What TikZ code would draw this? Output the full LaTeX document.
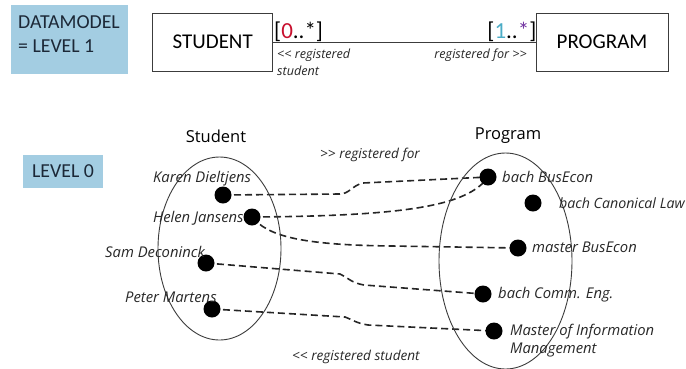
\documentclass[tikz,border=0pt]{standalone}
\usepackage{fontspec}
\setmainfont{Carlito}
\newfontfamily\osans{Open Sans}
\usetikzlibrary{backgrounds}
\definecolor{levelblue}{RGB}{163,205,226}
\definecolor{leveltext}{RGB}{28,40,55}
\definecolor{edgegray}{RGB}{60,60,60}
\definecolor{mulred}{RGB}{200,16,46}
\definecolor{multeal}{RGB}{75,172,198}
\definecolor{mulpurple}{RGB}{112,48,160}
\definecolor{labelgray}{RGB}{40,40,40}
% guillemet-free double angle marks
\newcommand\dlt{<\kern0pt<}
\newcommand\dgt{>\kern0pt>}
\begin{document}
\begin{tikzpicture}[x=1pt,y=-1pt,
  levelbox/.style={fill=levelblue, text=leveltext, inner sep=0pt},
  leveltxt/.style={text=leveltext, inner sep=0pt, font=\fontsize{19.8}{24}\selectfont},
  entity/.style={draw=edgegray, line width=0.9pt, minimum height=58pt, inner sep=0pt,
                 font=\fontsize{21}{21}\selectfont},
  mult/.style={inner sep=0pt, font=\fontsize{23}{23}\selectfont},
  dot/.style={circle, fill=black, minimum size=17pt, inner sep=0pt},
  member/.style={font=\osans\itshape\fontsize{14.8}{16}\selectfont, text=labelgray, inner sep=0pt, anchor=base west},
  rel/.style={font=\osans\itshape\fontsize{12.6}{16}\selectfont, text=labelgray, inner sep=0pt},
  setrel/.style={font=\osans\itshape\fontsize{13.6}{16}\selectfont, text=labelgray, inner sep=0pt, anchor=base west},
  link/.style={draw=black!85, line width=1.6pt, dash pattern=on 7pt off 4pt},
  setring/.style={draw=edgegray, line width=0.9pt},
  settitle/.style={font=\osans\fontsize{16.5}{18}\selectfont, inner sep=0pt, anchor=base}]
\useasboundingbox (0,0) rectangle (686,368);

% ---------- level 1: data model ----------
\node[levelbox, minimum width=117pt, minimum height=69pt, anchor=north west] (dmbox) at (11,5) {};
\node[leveltxt, anchor=base west] (dm1) at (18,28) {DATAMODEL};
\node[leveltxt, anchor=base west] (dm2) at (18,52) {= LEVEL 1};

\node[entity, minimum width=120pt] (student) at (212.7,42) {STUDENT};
\node[entity, minimum width=132pt] (program) at (602,42) {PROGRAM};
\draw[edgegray, line width=0.9pt] (student) -- (program);

\node[mult, anchor=base west] (mleft) at (274,38.5)
  {[\textcolor{mulred}{0}..*]};
\node[mult, anchor=base east] (mright) at (536.5,38.5)
  {[\textcolor{multeal}{1}..\textcolor{mulpurple}{*}]};

\node[rel, anchor=base west] (rl1) at (277,58) {\dlt{} registered};
\node[rel, anchor=base west] (rl2) at (277,75) {student};
\node[rel, anchor=base east] (rr) at (527,58) {registered for \dgt};

% ---------- level 0: instances ----------
\node[levelbox, minimum width=80pt, minimum height=33pt, leveltxt] (lv0) at (63,171.5) {LEVEL 0};

\node[settitle] (ttlS) at (216,142) {Student};
\node[settitle] (ttlP) at (508,139) {Program};

\draw[setring] (219.5,248.5) ellipse [x radius=61.5, y radius=91.5];
\draw[setring] (505.5,261) ellipse [x radius=66.5, y radius=108];

% students
\node[dot] (karen) at (223,195) {};
\node[dot] (helen) at (252,217) {};
\node[dot] (sam)   at (206,263) {};
\node[dot] (peter) at (212,309) {};
\node[member] at (153,182) {Karen Dieltjens};
\node[member] at (153,222) {Helen Jansens};
\node[member] at (105,257) {Sam Deconinck};
\node[member] at (125,302) {Peter Martens};

% programs
\node[dot] (bbus)  at (488,177) {};
\node[dot] (bcan)  at (533,203) {};
\node[dot] (mbus)  at (518,248) {};
\node[dot] (bcomm) at (483,294) {};
\node[dot] (mim)   at (494,331) {};
\node[member] at (502,182) {bach BusEcon};
\node[member, anchor=base east, font=\osans\itshape\fontsize{14.2}{16}\selectfont] at (685,208) {bach Canonical Law};
\node[member] at (532,252) {master BusEcon};
\node[member] at (498,298) {bach Comm. Eng.};
\node[member] at (510,335) {Master of Information};
\node[member] at (510,353) {Management};

\node[setrel] (regfor) at (320,158) {\dgt{} registered for};
\node[setrel] (regst) at (292,360) {\dlt{} registered student};

% registrations, behind the dots
\begin{scope}[on background layer]
  \fill[white] (0,0) rectangle (686,368);
  \draw[link] (karen.center) -- ++(117,-1) .. controls +(9,0) and +(-10,2) .. ++(23,-11) -- (bbus.center);
  \draw[link] (helen.center) .. controls (405,216) and (468,206) .. (bbus.center);
  \draw[link] (helen.center) .. controls (268,236) and (300,245) .. ++(140,29) -- (mbus.center);
  \draw[link] (sam.center) -- ++(134,11) .. controls +(8,4) and +(-12,-2) .. ++(24,11) -- (bcomm.center);
  \draw[link] (peter.center) -- ++(133,8) .. controls +(8,3) and +(-12,-2) .. ++(23,8) -- (mim.center);
\end{scope}
\end{tikzpicture}
\end{document}
